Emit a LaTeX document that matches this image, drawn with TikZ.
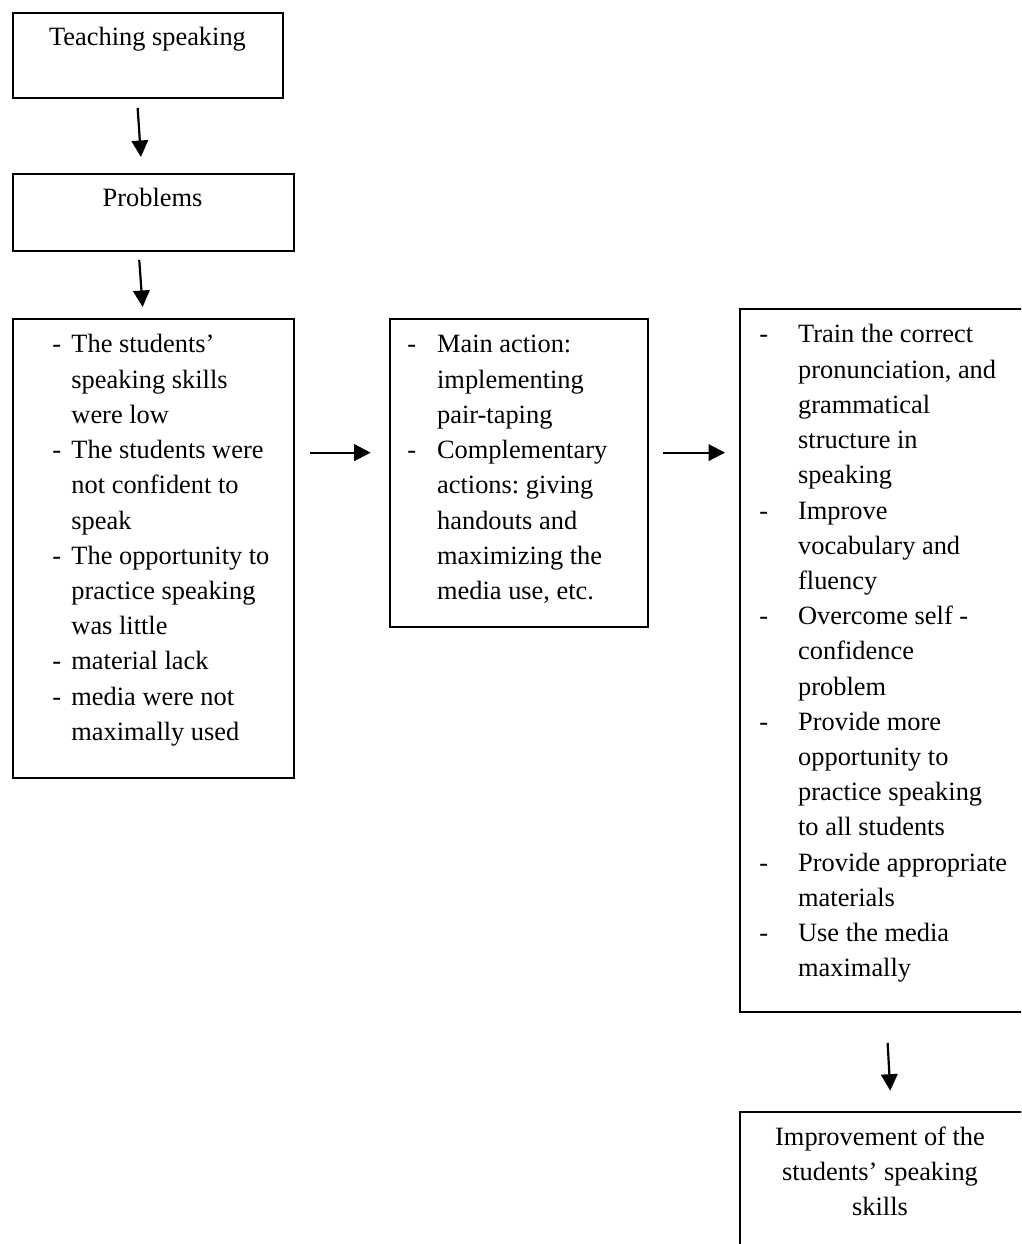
\documentclass[tikz,border=0pt]{standalone}
\usepackage{fontspec}
\setmainfont{Liberation Serif}
\usetikzlibrary{arrows.meta}
\newdimen\pu \pu=0.4545pt
\def\U{0.4545pt}
\newdimen\itemgap
\newcommand\dashlead{\makebox[\itemgap][l]{-}}
\newcommand\contlead{\hspace*{\itemgap}}
\frenchspacing
\tikzset{
  box/.style={draw=black, line width=0.85pt, inner sep=0pt, anchor=north west},
  txt/.style={inner sep=0pt, font=\fontsize{12pt}{16pt}\selectfont},
  arr/.style={line width=1pt, -{Triangle[length=7.5pt,width=7.5pt]}}
}
\begin{document}
\begin{tikzpicture}[x=0.4545pt, y=-0.4545pt]
\useasboundingbox (0,0) rectangle (1021,1244);
\clip (0,0) rectangle (1021,1244);
\fill[white] (0,0) rectangle (1021,1244);

% boxes
\node[box, minimum width=270*\U, minimum height=85*\U] (b1) at (12,12) {};
\node[box, minimum width=281*\U, minimum height=77*\U] (b2) at (12,173) {};
\node[box, minimum width=281*\U, minimum height=459*\U] (b3) at (12,318) {};
\node[box, minimum width=258*\U, minimum height=308*\U] (b4) at (389,318) {};
\node[box, minimum width=291*\U, minimum height=703*\U] (b5) at (739,308) {};
\node[box, minimum width=291*\U, minimum height=160*\U] (b6) at (739,1111) {};

% texts
\node[txt, anchor=base] (t1) at (147.5,45.5) {Teaching speaking};
\node[txt, anchor=base] (t2) at (152.5,207) {Problems};

\node[txt, anchor=base west] (t3) at (52,353) {\itemgap=19\pu
  \parbox[t]{240\pu}{\raggedright
  \dashlead The students’\\
  \contlead speaking skills\\
  \contlead were low\\
  \dashlead The students were\\
  \contlead not confident to\\
  \contlead speak\\
  \dashlead The opportunity to\\
  \contlead practice speaking\\
  \contlead was little\\
  \dashlead material lack\\
  \dashlead media were not\\
  \contlead maximally used}};

\node[txt, anchor=base west] (t4) at (407,353) {\itemgap=29.7\pu
  \parbox[t]{240\pu}{\raggedright
  \dashlead Main action:\\
  \contlead implementing\\
  \contlead pair-taping\\
  \dashlead Complementary\\
  \contlead actions: giving\\
  \contlead handouts and\\
  \contlead maximizing the\\
  \contlead media use, etc.}};

\node[txt, anchor=base west] (t5) at (759,343) {\itemgap=38.7\pu
  \parbox[t]{270\pu}{\raggedright
  \dashlead Train the correct\\
  \contlead pronunciation, and\\
  \contlead grammatical\\
  \contlead structure in\\
  \contlead speaking\\
  \dashlead Improve\\
  \contlead vocabulary and\\
  \contlead fluency\\
  \dashlead Overcome self -\\
  \contlead confidence\\
  \contlead problem\\
  \dashlead Provide more\\
  \contlead opportunity to\\
  \contlead practice speaking\\
  \contlead to all students\\
  \dashlead Provide appropriate\\
  \contlead materials\\
  \dashlead Use the media\\
  \contlead maximally}};

\node[txt, anchor=base] (t6) at (880,1145) {\parbox[t]{280\pu}{\centering
  Improvement of the\\
  students’ speaking\\
  skills}};

% connectors
\draw[arr] ([xshift=-10.3*\U, yshift=-9*\U]b1.south) -- ([xshift=-12.5*\U, yshift=16*\U]b2.north);
\draw[arr] ([xshift=-14.2*\U, yshift=-8*\U]b2.south) -- ([xshift=-10.8*\U, yshift=11*\U]b3.north);
\draw[arr] ([xshift=15*\U, yshift=95.8*\U]b3.east) -- ([xshift=-18.3*\U, yshift=20.3*\U]b4.west);
\draw[arr] ([xshift=13.7*\U, yshift=20.3*\U]b4.east) -- ([xshift=-14*\U, yshift=207.8*\U]b5.west);
\draw[arr] ([xshift=2.2*\U, yshift=-30*\U]b5.south) -- ([xshift=4.8*\U, yshift=20.3*\U]b6.north);
\end{tikzpicture}
\end{document}
